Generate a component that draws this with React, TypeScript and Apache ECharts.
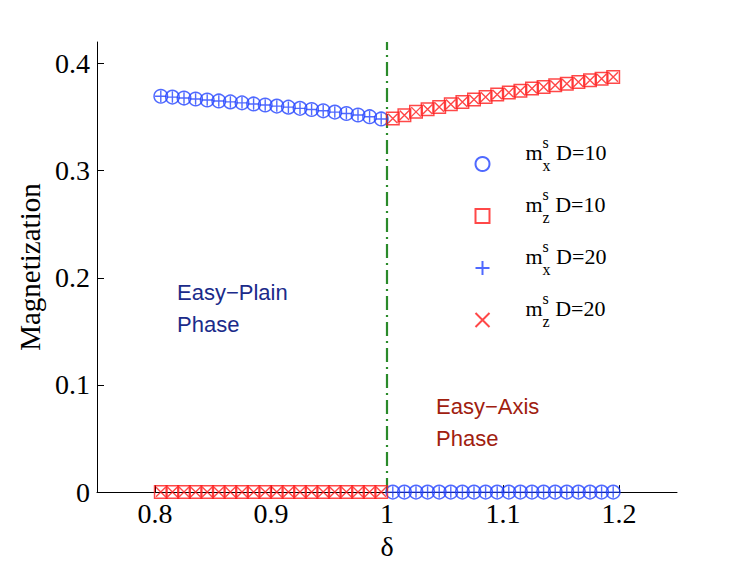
import React, { useEffect, useRef } from "react";
import * as echarts from "echarts";

// delta values of the two halves
const deltaLeft = [0.805, 0.815, 0.825, 0.835, 0.845, 0.855, 0.865, 0.875, 0.885, 0.895,
  0.905, 0.915, 0.925, 0.935, 0.945, 0.955, 0.965, 0.975, 0.985, 0.995];
const deltaRight = [1.005, 1.015, 1.025, 1.035, 1.045, 1.055, 1.065, 1.075, 1.085, 1.095,
  1.105, 1.115, 1.125, 1.135, 1.145, 1.155, 1.165, 1.175, 1.185, 1.195];

// m_x^s (easy-plane side, delta < 1), zero on the other side
const mxLeftD10 = [0.3694, 0.3686, 0.3677, 0.3668, 0.3659, 0.3650, 0.3641, 0.3632, 0.3622, 0.3612,
  0.3602, 0.3592, 0.3581, 0.3570, 0.3558, 0.3546, 0.3533, 0.3519, 0.3503, 0.3482];
const mxRightD10 = [0, 0, 0, 0, 0, 0, 0, 0, 0, 0, 0, 0, 0, 0, 0, 0, 0, 0, 0, 0];
const mxLeftD20 = [0.3694, 0.3686, 0.3677, 0.3668, 0.3659, 0.3650, 0.3641, 0.3632, 0.3622, 0.3612,
  0.3602, 0.3592, 0.3581, 0.3570, 0.3558, 0.3546, 0.3533, 0.3519, 0.3503, 0.3482];
const mxRightD20 = [0, 0, 0, 0, 0, 0, 0, 0, 0, 0, 0, 0, 0, 0, 0, 0, 0, 0, 0, 0];

// m_z^s (easy-axis side, delta > 1), zero on the other side
const mzLeftD10 = [0, 0, 0, 0, 0, 0, 0, 0, 0, 0, 0, 0, 0, 0, 0, 0, 0, 0, 0, 0];
const mzRightD10 = [0.3487, 0.3517, 0.3548, 0.3573, 0.3594, 0.3619, 0.3640, 0.3663, 0.3687, 0.3709,
  0.3728, 0.3746, 0.3765, 0.3780, 0.3796, 0.3811, 0.3827, 0.3842, 0.3858, 0.3873];
const mzLeftD20 = [0, 0, 0, 0, 0, 0, 0, 0, 0, 0, 0, 0, 0, 0, 0, 0, 0, 0, 0, 0];
const mzRightD20 = [0.3487, 0.3517, 0.3548, 0.3573, 0.3594, 0.3619, 0.3640, 0.3663, 0.3687, 0.3709,
  0.3728, 0.3746, 0.3765, 0.3780, 0.3796, 0.3811, 0.3827, 0.3842, 0.3858, 0.3873];

const xTicks = [0.8, 0.9, 1, 1.1, 1.2];
const yTicks = [0, 0.1, 0.2, 0.3, 0.4];
const transitionDelta = 1;

const seriesNames = ["mx10", "mz10", "mx20", "mz20"];
const legendSub = ["x", "z", "x", "z"];
const legendD = ["10", "10", "20", "20"];

const BLUE = "#2343ff";
const RED = "#ff1a1a";
const SERIF = '"Liberation Serif", "Times New Roman", serif';
const SANS = '"Liberation Sans", Arial, sans-serif';

function pairs(xl: number[], yl: number[], xr: number[], yr: number[]) {
  const out: number[][] = [];
  xl.forEach((x, i) => out.push([x, yl[i]]));
  xr.forEach((x, i) => out.push([x, yr[i]]));
  return out;
}

export default function App() {
  const ref = useRef<HTMLDivElement>(null);
  useEffect(() => {
    if (!ref.current) return;
    const chart = echarts.init(ref.current, undefined, { renderer: "svg" });
    const square = "path://M-1,-1L1,-1L1,1L-1,1Z";
    const plus = "path://M0,-1L0,1M-1,0L1,0";
    const cross = "path://M-1,-1L1,1M-1,1L1,-1";
    const option: any = {
      animation: false,
      backgroundColor: "#ffffff",
      grid: { left: 97, top: 42, right: 70, bottom: 72, containLabel: false },
      xAxis: {
        type: "value",
        min: 0.75,
        max: 1.25,
        name: "δ",
        nameLocation: "middle",
        nameGap: 27,
        nameTextStyle: { fontFamily: SERIF, fontSize: 28, color: "#000" },
        axisLine: { show: true, onZero: false, lineStyle: { color: "#000", width: 1 } },
        axisTick: { show: true, inside: true, length: 7, customValues: xTicks, lineStyle: { color: "#000" } },
        axisLabel: { customValues: xTicks, fontFamily: SERIF, fontSize: 28, color: "#000", margin: 7 },
        splitLine: { show: false },
      },
      yAxis: {
        type: "value",
        min: 0,
        max: 0.42,
        name: "Magnetization",
        nameLocation: "middle",
        nameGap: 52,
        nameTextStyle: { fontFamily: SERIF, fontSize: 29, color: "#000" },
        axisLine: { show: true, lineStyle: { color: "#000", width: 1 } },
        axisTick: { show: true, inside: true, length: 7, customValues: yTicks, lineStyle: { color: "#000" } },
        axisLabel: { customValues: yTicks, fontFamily: SERIF, fontSize: 28, color: "#000", margin: 7 },
        splitLine: { show: false },
      },
      legend: {
        orient: "vertical",
        left: 473,
        top: 134,
        padding: 0,
        itemGap: -8,
        itemWidth: 14,
        itemHeight: 14,
        data: seriesNames,
        selectedMode: false,
        formatter: (name: string) => {
          const i = seriesNames.indexOf(name);
          return `{gap| }{m|m}{s|s}{sub|${legendSub[i]}}{d| D=${legendD[i]}}`;
        },
        textStyle: {
          fontFamily: SERIF,
          fontSize: 21,
          color: "#000",
          rich: {
            gap: { fontSize: 10, width: 31, lineHeight: 48, verticalAlign: "middle" },
            m: { fontFamily: SERIF, fontSize: 22, color: "#000", verticalAlign: "middle", lineHeight: 20, padding: [0, 0, 24, 0] },
            s: { fontFamily: SERIF, fontSize: 16, color: "#000", verticalAlign: "middle", lineHeight: 4, width: 0, padding: [0, 0, 44, 0] },
            sub: { fontFamily: SERIF, fontSize: 16, color: "#000", verticalAlign: "middle", lineHeight: 4, padding: [2, 0, 0, 0] },
            d: { fontFamily: SERIF, fontSize: 22, color: "#000", verticalAlign: "middle", lineHeight: 20, padding: [0, 0, 24, 0] },
          },
        },
      },
      series: [
        {
          name: "mx10",
          type: "scatter",
          symbol: "circle",
          symbolSize: 13.5,
          itemStyle: { color: "none", borderColor: BLUE, borderWidth: 1.5 },
          data: pairs(deltaLeft, mxLeftD10, deltaRight, mxRightD10),
          z: 3,
          markLine: {
            silent: true,
            symbol: ["none", "none"],
            label: { show: false },
            lineStyle: { color: "#2a8a2a", width: 2.2, type: [14, 5, 2, 5] },
            data: [{ xAxis: transitionDelta }],
            z: 1,
          },
        },
        {
          name: "mz10",
          type: "scatter",
          symbol: square,
          symbolSize: 12.5,
          itemStyle: { color: "none", borderColor: RED, borderWidth: 1.5 },
          data: pairs(deltaLeft, mzLeftD10, deltaRight, mzRightD10),
          z: 3,
        },
        {
          name: "mx20",
          type: "scatter",
          symbol: plus,
          symbolSize: 11.5,
          itemStyle: { color: "none", borderColor: BLUE, borderWidth: 1.4 },
          data: pairs(deltaLeft, mxLeftD20, deltaRight, mxRightD20),
          z: 4,
        },
        {
          name: "mz20",
          type: "scatter",
          symbol: cross,
          symbolSize: 9.5,
          itemStyle: { color: "none", borderColor: RED, borderWidth: 1.4 },
          data: pairs(deltaLeft, mzLeftD20, deltaRight, mzRightD20),
          z: 4,
        },
      ],
      graphic: [
        {
          type: "text",
          x: 177,
          y: 276,
          style: {
            text: "Easy−Plain\nPhase",
            font: `22px ${SANS}`,
            fill: "#1b2b8a",
            lineHeight: 32,
            verticalAlign: "top",
          },
        },
        {
          type: "text",
          x: 436,
          y: 390,
          style: {
            text: "Easy−Axis\nPhase",
            font: `22px ${SANS}`,
            fill: "#a0200f",
            lineHeight: 32,
            verticalAlign: "top",
          },
        },
      ],
    };
    chart.setOption(option);
    return () => chart.dispose();
  }, []);
  return (
    <div
      ref={ref}
      style={{ position: "fixed", left: 0, top: 0, width: 747, height: 565, background: "#fff" }}
    />
  );
}
